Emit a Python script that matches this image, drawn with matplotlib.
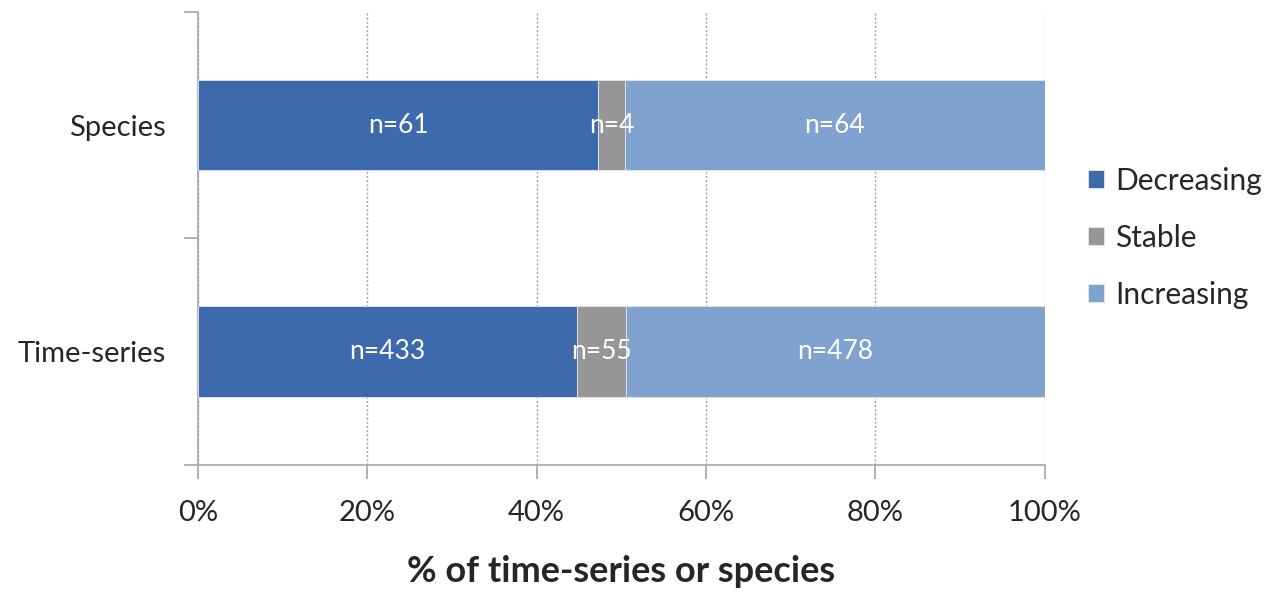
"""
Stacked 100% bar chart: trend direction of time-series and species
"""

import matplotlib
matplotlib.use("Agg")
import matplotlib.pyplot as plt
import numpy as np

plt.rcParams["font.family"] = ["Lato", "DejaVu Sans"]

# ── Data ──────────────────────────────────────────────────────────────────────
categories = ["Time-series", "Species"]
series     = ["Decreasing", "Stable", "Increasing"]
decreasing = [433, 61]
stable     = [55, 4]
increasing = [478, 64]

colors = ["#3d6aad", "#969696", "#7fa2cf"]
C_AXIS = "#a6a6a6"
C_TEXT = "#262626"

counts = np.array([decreasing, stable, increasing], dtype=float)
shares = counts / counts.sum(axis=0) * 100

# ── Canvas ────────────────────────────────────────────────────────────────────
fig = plt.figure(figsize=(12.77, 5.93), dpi=100, facecolor="white")
ax = fig.add_axes([0.155, 0.216, 0.663, 0.764])

ypos = np.arange(len(categories))
left = np.zeros(len(categories))
handles = []
for name, vals, n, col in zip(series, shares, counts, colors):
    bars = ax.barh(ypos, vals, left=left, height=0.4, color=col,
                   edgecolor="#e8e8e8", linewidth=0.6, label=name, zorder=3)
    handles.append(bars)
    for y, l, v, c in zip(ypos, left, vals, n):
        ax.text(l + v / 2, y, f"n={int(c)}", ha="center", va="center",
                fontsize=19, color="white", zorder=4)
    left = left + vals

# ── Axes styling ──────────────────────────────────────────────────────────────
ax.set_xlim(0, 100)
ax.set_ylim(-0.5, 1.5)
ax.set_xticks(np.arange(0, 101, 20))
ax.set_xticklabels([f"{t}%" for t in range(0, 101, 20)], fontsize=21, color=C_TEXT)
ax.set_yticks([-0.5, 0.5, 1.5])
ax.set_yticklabels([])
ax.set_yticks(ypos, minor=True)
ax.set_yticklabels(categories, minor=True, fontsize=21, color=C_TEXT)
ax.tick_params(axis="y", which="minor", length=0, pad=23)
ax.tick_params(axis="y", which="major", length=10, color=C_AXIS, width=1.2)
ax.tick_params(axis="x", length=10, color=C_AXIS, width=1.2, pad=15)

for s in ["top", "right"]:
    ax.spines[s].set_visible(False)
for s in ["left", "bottom"]:
    ax.spines[s].set_color(C_AXIS)
    ax.spines[s].set_linewidth(1.2)

ax.grid(axis="x", linestyle=(0, (1.5, 1.5)), color="#a0a0a0", linewidth=1.0, zorder=0)

ax.set_xlabel("% of time-series or species", fontsize=26, fontweight="bold",
              color=C_TEXT, labelpad=21)

fig.legend(handles=handles, labels=series, loc="center left",
           bbox_to_anchor=(0.831, 0.599), frameon=False, fontsize=21.5,
           handlelength=0.55, handleheight=0.55, handletextpad=0.35,
           labelspacing=0.97, labelcolor=C_TEXT)

fig.savefig("out.png", dpi=100, facecolor="white")
